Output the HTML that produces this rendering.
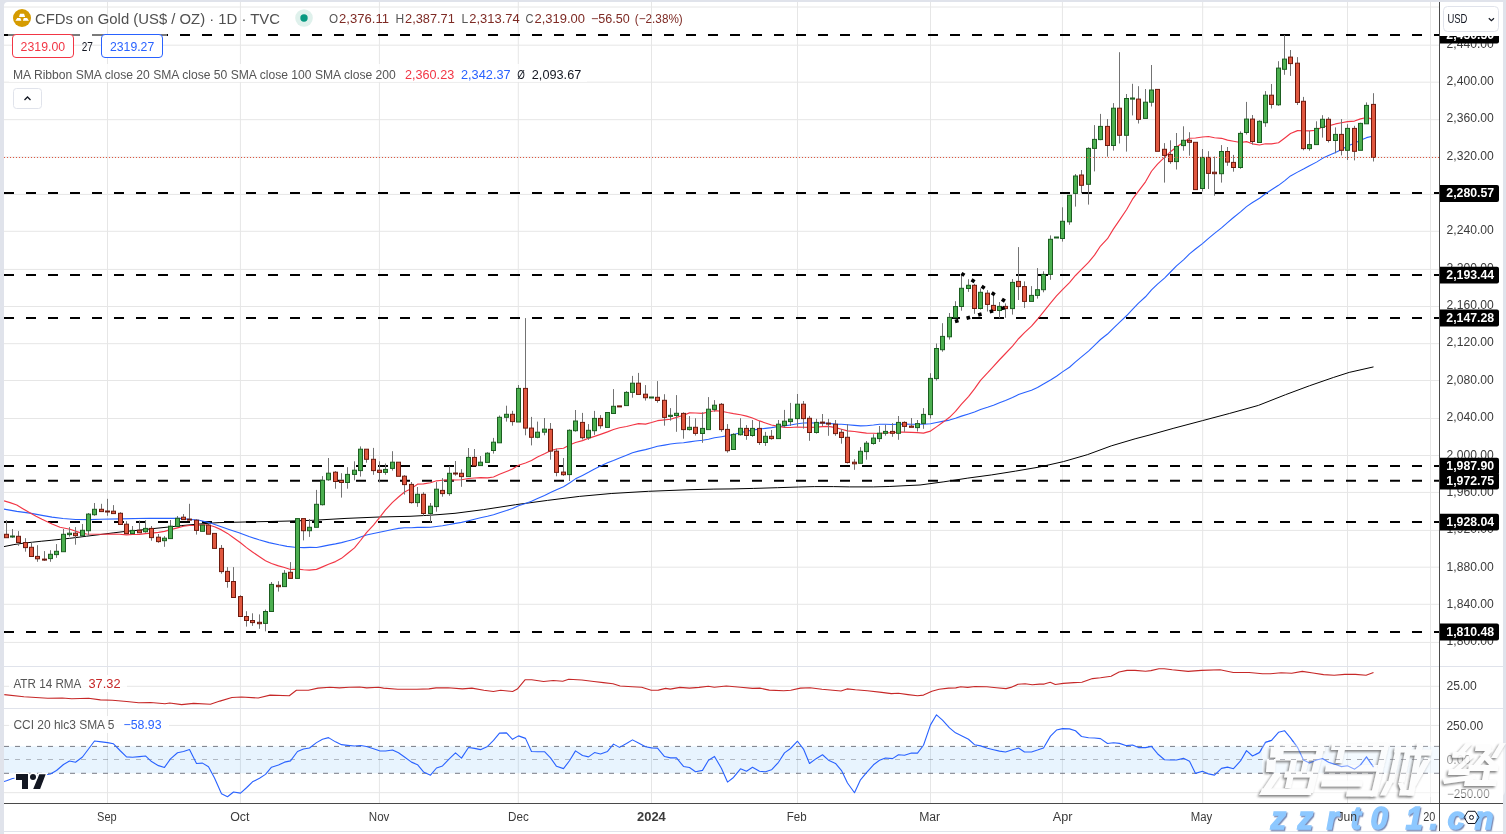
<!DOCTYPE html>
<html><head><meta charset="utf-8"><title>Gold chart</title>
<style>html,body{margin:0;padding:0;width:1506px;height:834px;overflow:hidden;background:#e0e3eb;font-family:"Liberation Sans",sans-serif}</style>
</head><body>
<svg width="1506" height="834" viewBox="0 0 1506 834" style="position:absolute;left:0;top:0;display:block;will-change:transform">
<defs><clipPath id="cp"><rect x="4" y="2" width="1435.5" height="664"/></clipPath><clipPath id="cpa"><rect x="4" y="667" width="1435.5" height="41"/></clipPath><clipPath id="cpc"><rect x="4" y="709" width="1435.5" height="94"/></clipPath></defs>
<rect width="1506" height="834" fill="#e0e3eb"/>
<rect x="4" y="2" width="1499" height="829" rx="4" fill="#fff"/>
<rect x="4" y="826" width="1499" height="5" fill="#fff"/>
<rect x="4" y="832" width="1499" height="2" fill="#fff"/>
<path d="M4 7 H1439 M4 45.2 H1439 M4 82.2 H1439 M4 119.7 H1439 M4 157.2 H1439 M4 194.4 H1439 M4 231.3 H1439 M4 269.4 H1439 M4 306.5 H1439 M4 343.7 H1439 M4 380.5 H1439 M4 418.5 H1439 M4 455.5 H1439 M4 492.4 H1439 M4 530.4 H1439 M4 567.2 H1439 M4 604.3 H1439 M4 642.4 H1439 M4 686.3 H1439 M4 725.4 H1439 M4 792.7 H1439 M107.5 2 V803 M240.4 2 V803 M379.4 2 V803 M518.3 2 V803 M651.5 2 V803 M797.5 2 V803 M930.5 2 V803 M1062.4 2 V803 M1202.7 2 V803 M1347.5 2 V803 M1430.5 2 V803 " stroke="#e6e6e6" stroke-width="1" fill="none"/>
<path d="M4 666.5 H1503 M4 708.5 H1503" stroke="#e0e3eb" stroke-width="1"/>
<rect x="4" y="746.4" width="1435.5" height="26.9" fill="#2196f3" fill-opacity="0.1"/>
<path d="M4 746.4 H1439 M4 773.3 H1439" stroke="#787b86" stroke-width="1" stroke-dasharray="5 6" fill="none"/>
<path d="M4 759.5 H1439" stroke="#787b86" stroke-opacity="0.5" stroke-width="1" stroke-dasharray="5 6" fill="none"/>
<path d="M4 35 H1439.5 M4 193.1 H1439.5 M4 275 H1439.5 M4 317.9 H1439.5 M4 466 H1439.5 M4 480.8 H1439.5 M4 522 H1439.5 M4 631.9 H1439.5 " stroke="#000" stroke-width="2" stroke-dasharray="10 12" fill="none"/>
<g clip-path="url(#cp)" fill="none" stroke-linejoin="round">
<polyline points="4,546.6 13.9,544.6 23.2,543.2 32.5,542.2 41.8,541.2 51.1,540.3 60.4,539.3 69.7,538.3 79,537.2 86.6,536.2 99.8,534.6 113.1,532.9 126.4,531.3 140,530.1 153.9,528.5 167.9,527.1 181.8,525.6 195.8,524.3 209.7,523.2 219.1,522.6 249,521.9 278.9,521.3 290,521 312.8,520.3 346,518.4 379.2,517 410,516.3 426.8,515.4 440,514.5 455,513.3 483.7,509.6 515.6,504.7 547.5,500.4 579.4,496.4 611.2,493.5 648.6,491.3 690,489.7 713.9,489.1 733,488.9 753.7,488.4 777.6,487.7 798.4,487 814.3,486.6 833.4,486.6 849.4,486.9 873.3,486.9 889.2,486.5 905,485.7 920,485 943.9,481.8 967.8,478.1 991.7,474.9 1015.6,471.1 1039.5,467 1063.4,461.6 1087.3,454.7 1111.2,445.9 1135.1,438.8 1150,434.9 1173.9,428.2 1202.6,420.6 1229.7,413.4 1258.4,405.4 1285.5,394.7 1309.4,385.8 1333.3,377.5 1349.2,372.4 1373.5,366.9" stroke="#000" stroke-width="1"/>
<polyline points="4,509.1 16.8,511.4 29.9,513.1 42,515.4 52,517.1 63,518.5 75.6,519.5 89.6,519.6 100,519.3 119.5,518.9 149.4,518.3 179.3,518.4 199.2,520.3 209,522.6 219.1,525.9 229,529.4 239,532.8 249,536.5 259,539.8 269,542.6 278.9,544.8 287,546.4 294.8,547.2 304,547.6 310,547.4 316.5,547.53 322.5,546.39 328.5,545.13 335.5,543.91 341.5,542.61 347.5,540.97 354.5,539.19 360.5,536.98 366.5,535.08 373.5,533.46 379.5,532.23 385.5,530.95 392.5,529.48 398.5,528.4 404.5,527.81 411.5,527.68 417.5,527.33 423.5,527.36 430.5,527.22 436.5,526.51 442.5,525.71 449.5,524.57 455.5,523.39 461.5,522.36 468.5,520.75 474.5,519.24 480.5,517.72 487.5,516.26 493.5,514.73 499.5,512.69 506.5,510.58 512.5,508.4 518.5,505.67 525.5,503.55 531.5,501.33 537.5,498.54 544.5,495.49 550.5,492.56 556.5,489.68 563.5,486.76 569.5,482.92 575.5,478.86 582.5,475.39 588.5,472.31 594.5,468.94 600.5,465.99 607.5,462.67 613.5,460.42 619.5,457.94 626.5,455.25 632.5,452.82 638.5,451.11 645.5,449.6 651.5,447.91 657.5,446.27 664.5,445.13 670.5,444.03 676.5,443.31 683.5,442.72 689.5,441.85 695.5,441.07 702.5,440.25 708.5,439.19 714.5,437.77 721.5,436.67 727.5,435.63 733.5,434.43 740.5,432.73 746.5,431.31 752.5,430.1 759.5,429.08 765.5,428.34 771.5,427.63 778.5,426.58 784.5,425.86 790.5,424.92 797.5,423.76 803.5,423.07 809.5,422.88 816.5,422.98 822.5,423.15 828.5,423.19 835.5,424.1 841.5,424.28 847.5,424.79 854.5,425.42 860.5,425.86 866.5,425.71 873.5,425.02 879.5,424.19 885.5,424.21 892.5,424.46 898.5,424.15 904.5,424.07 911.5,424.25 917.5,424.21 923.5,424.25 930.5,423.69 936.5,422.53 942.5,421.41 949.5,420.09 955.5,418.33 961.5,416.14 968.5,413.91 974.5,412.07 980.5,409.57 987.5,407.35 993.5,405.29 999.5,402.83 1005.5,400.46 1012.5,397.44 1018.5,394.6 1024.5,392.44 1031.5,390.25 1037.5,387.45 1043.5,383.92 1050.5,380.02 1056.5,376.2 1062.5,371.91 1069.5,367.25 1075.5,361.92 1081.5,356.9 1088.5,351.1 1094.5,345.4 1100.5,339.5 1107.5,334.03 1113.5,328.11 1119.5,322.45 1126.5,315.77 1132.5,309.28 1138.5,303.21 1145.5,296.78 1151.5,289.91 1157.5,284.18 1164.5,278.04 1170.5,272 1176.5,265.9 1183.5,259.84 1189.5,253.93 1195.5,249.05 1202.5,243.57 1208.5,238.38 1214.5,233.4 1221.5,227.9 1227.5,222.6 1233.5,217.48 1240.5,211.86 1246.5,206.67 1252.5,202.53 1259.5,198.23 1265.5,193.79 1271.5,189.74 1278.5,185.34 1284.5,180.82 1290.5,175.92 1297.5,172.12 1303.5,169 1309.5,165.69 1316.5,162.13 1322.5,158.34 1328.5,155.5 1335.5,152.46 1341.5,149.44 1347.5,146.1 1354.5,143.33 1360.5,140.31 1366.5,137.63 1373.5,136.04" stroke="#2962ff" stroke-width="1.1"/>
<polyline points="4,500.9 10,502.6 16.8,505 22,508.2 29.4,512.6 36,516.2 42,519.3 52,524 60,527.3 70,529.3 79.9,532.6 86.6,534 99.8,534.2 113.1,534 119.5,534.2 126.5,534.84 132.5,534.47 139.5,534.31 145.5,533.61 151.5,533.11 158.5,532.36 164.5,531.33 170.5,529.64 177.5,527.84 183.5,526.25 189.5,525.52 196.5,525.38 202.5,524.86 208.5,525.05 214.5,526.76 221.5,529.88 227.5,533.38 233.5,537.66 240.5,542.81 246.5,547.61 252.5,552.06 259.5,556.72 265.5,560.65 271.5,563.46 278.5,565.91 284.5,567.5 290.5,569.5 297.5,569.12 303.5,569.75 309.5,570.13 316.5,569.36 322.5,566.86 328.5,564.26 335.5,561.62 341.5,558.33 347.5,553.47 354.5,547.9 360.5,540.49 366.5,532.63 373.5,525.13 379.5,517.62 385.5,509.91 392.5,502.44 398.5,497.04 404.5,491.94 411.5,488.4 417.5,484.19 423.5,483.94 430.5,482.71 436.5,480.81 442.5,480.27 449.5,479.93 455.5,479.96 461.5,479.72 468.5,478.46 474.5,478.04 480.5,477.64 487.5,477.84 493.5,476.98 499.5,474.31 506.5,471.41 512.5,469.02 518.5,465.33 525.5,462.92 531.5,460.56 537.5,457.04 544.5,453.77 550.5,450.66 556.5,448.96 563.5,448.24 569.5,445.07 575.5,442.46 582.5,440.64 588.5,438.33 594.5,436.38 600.5,434.38 607.5,431.89 613.5,429.54 619.5,427.77 626.5,426.52 632.5,424.97 638.5,423.61 645.5,424.07 651.5,422.52 657.5,420.68 664.5,419.94 670.5,419.25 676.5,417.36 683.5,415.22 689.5,412.85 695.5,413 702.5,413.38 708.5,411.95 714.5,410.69 721.5,411.25 727.5,412.5 733.5,413.6 740.5,414.7 746.5,416.14 752.5,417.94 759.5,420.91 765.5,423 771.5,425.04 778.5,426.41 784.5,427.44 790.5,427.52 797.5,426.97 803.5,427.24 809.5,427.38 816.5,427.14 822.5,426.61 828.5,426.38 835.5,427.59 841.5,429.21 847.5,430.86 854.5,431.51 860.5,432.36 866.5,433.1 873.5,433.23 879.5,433.47 885.5,432.91 892.5,432.76 898.5,431.96 904.5,432.06 911.5,432.37 917.5,432.59 923.5,433.11 930.5,431.09 936.5,426.89 942.5,422.59 949.5,417.32 955.5,411.46 961.5,404.19 968.5,396.58 974.5,388.88 980.5,380.31 987.5,372.97 993.5,366.33 999.5,359.75 1005.5,353.51 1012.5,346.06 1018.5,338.73 1024.5,332.68 1031.5,326.13 1037.5,319.25 1043.5,311.79 1050.5,303.03 1056.5,295.97 1062.5,289.61 1069.5,282.55 1075.5,275.48 1081.5,269.42 1088.5,262.43 1094.5,255.13 1100.5,246.03 1107.5,238.69 1113.5,228.88 1119.5,220.12 1126.5,209.72 1132.5,199.19 1138.5,191.04 1145.5,181.82 1151.5,171.25 1157.5,164.05 1164.5,157.33 1170.5,151.69 1176.5,147.05 1183.5,142.22 1189.5,138.27 1195.5,137.98 1202.5,137.05 1208.5,136.45 1214.5,137.72 1221.5,138.32 1227.5,140.11 1233.5,141.21 1240.5,142.47 1246.5,141.66 1252.5,143.81 1259.5,144.97 1265.5,143.77 1271.5,143.88 1278.5,142.78 1284.5,138.17 1290.5,133.58 1297.5,130.62 1303.5,130.72 1309.5,130.94 1316.5,130.25 1322.5,126.73 1328.5,125.88 1335.5,123.93 1341.5,122.77 1347.5,121.61 1354.5,121.07 1360.5,118.87 1366.5,117.47 1373.5,119.38" stroke="#f23645" stroke-width="1.15"/>
</g>
<path d="M6.5 520.2 V534.3 M12.5 529 V536 M12.5 536.8 V537.8 M18.5 531.1 V536.3 M18.5 542.5 V545.8 M25.5 538.2 V542.5 M25.5 547.6 V551.7 M31.5 542.4 V547.3 M37.5 545.2 V556.4 M37.5 558.8 V561.8 M44.5 551.1 V559.1 M44.5 560 V560.9 M50.5 550.2 V554.3 M50.5 558.6 V561.8 M56.5 544.1 V551.3 M56.5 554.6 V557.8 M63.5 529 V534.3 M69.5 527.1 V533.2 M69.5 534.6 V536.7 M75.5 527.1 V533.2 M75.5 535.7 V544.7 M82.5 524 V530.3 M88.5 513 V514.1 M88.5 530.7 V535.3 M94.5 503 V509.3 M94.5 514.7 V515.8 M101.5 503.8 V509.3 M107.5 498.8 V511 M107.5 511.8 V515.8 M113.5 505.1 V511.2 M120.5 512.2 V513.3 M126.5 521.2 V524.2 M132.5 526 V530.4 M139.5 520.6 V530.2 M145.5 520.2 V528.4 M145.5 531.7 V532.8 M151.5 526 V528.4 M151.5 537.6 V540.7 M158.5 534 V537.2 M158.5 541.6 V542.8 M164.5 536.1 V538.2 M164.5 540.7 V546.8 M170.5 520 V526.2 M177.5 516 V518.3 M183.5 514.1 V517.2 M189.5 503.8 V519.1 M189.5 519.7 V520.2 M196.5 519.3 V520.2 M196.5 530.4 V534.6 M208.5 523.4 V525.1 M221.5 545 V548.4 M221.5 571.6 V573.7 M227.5 567.1 V571.4 M227.5 581.5 V587.7 M233.5 567.1 V581.5 M240.5 595.2 V596.6 M246.5 611.2 V616.5 M246.5 620.5 V626.6 M252.5 613.3 V620.5 M252.5 622.6 V625.9 M259.5 614.4 V622.3 M259.5 623.7 V628.8 M265.5 609.6 V611.5 M265.5 623.4 V631.3 M271.5 582 V584.4 M278.5 581.2 V585.3 M278.5 586.7 V591.6 M284.5 570.1 V573.3 M290.5 562.1 V572.3 M297.5 518.1 V518.6 M303.5 530.7 V540.4 M309.5 519 V527.3 M309.5 530.7 V536.9 M316.5 489.9 V504.3 M322.5 476.1 V480.3 M322.5 504.7 V505.5 M328.5 458 V473.2 M328.5 479.8 V480.8 M335.5 471.1 V472.2 M335.5 481.5 V488.7 M341.5 473.2 V480.5 M341.5 482.5 V497.6 M347.5 467.2 V474.4 M347.5 482.5 V488.7 M354.5 461.3 V470.2 M354.5 474.4 V480.3 M360.5 446.4 V449.2 M360.5 470.6 V476.6 M366.5 459.3 V462.7 M373.5 447.9 V459.3 M373.5 470.6 V474.8 M379.5 461.3 V470.2 M379.5 472.4 V482.5 M385.5 463.5 V469.4 M385.5 472.4 V474.8 M392.5 451.2 V462.2 M392.5 468.4 V470.6 M404.5 475.1 V476.2 M404.5 484.6 V494.6 M411.5 482 V484.4 M411.5 502.6 V503.6 M417.5 487 V494.3 M417.5 502.6 V506.8 M423.5 492.2 V494.3 M423.5 513.5 V515.9 M430.5 503 V506.2 M430.5 513.5 V522.5 M436.5 482 V489.2 M436.5 506.6 V511.7 M442.5 478.1 V490.4 M442.5 493.6 V496.7 M449.5 466.2 V473.3 M449.5 493.6 V495.8 M455.5 461 V473 M455.5 474 V475.7 M461.5 469.2 V473.3 M461.5 476.6 V486.8 M468.5 448 V457.4 M474.5 449 V457.4 M480.5 456 V462.2 M487.5 452.2 V453.2 M493.5 437.9 V442.2 M493.5 450.5 V453.6 M499.5 415.5 V417.3 M506.5 405.7 V414.3 M506.5 417.3 V421.6 M512.5 410.8 V414.3 M512.5 421.6 V425.7 M518.5 385 V388.4 M525.5 318.1 V388.4 M525.5 428.1 V435.3 M531.5 416.9 V428.1 M531.5 437.3 V445.4 M537.5 421.6 V432.2 M537.5 437.3 V438.3 M544.5 418 V429.1 M544.5 432.2 V435.3 M550.5 423 V429.3 M550.5 451.1 V459.7 M556.5 448.7 V451.2 M556.5 472.4 V476.3 M563.5 458 V472.1 M563.5 474.7 V475.9 M569.5 429.3 V430.3 M569.5 474.6 V481 M575.5 410 V421 M575.5 430.7 V431.7 M582.5 412.9 V422.4 M582.5 437.7 V439.5 M588.5 424.1 V430.3 M588.5 437.7 V439.9 M594.5 410.9 V418.4 M594.5 430.7 V434.9 M600.5 415.1 V418.4 M600.5 425.7 V428.7 M613.5 389.1 V406.3 M626.5 391.1 V392.4 M632.5 375.9 V383.2 M632.5 392.4 V397.7 M638.5 372.9 V383.2 M645.5 385.1 V394.2 M645.5 397.7 V400.6 M657.5 381.1 V397.3 M657.5 400.5 V402.7 M664.5 394.2 V400.3 M664.5 417.4 V425.7 M670.5 408.1 V415.3 M670.5 416.4 V420.7 M676.5 395.1 V413.3 M676.5 415.5 V431.8 M683.5 412.3 V413.4 M683.5 429.6 V438.7 M689.5 416.1 V427.3 M689.5 429.6 V430.5 M695.5 418.2 V427.3 M695.5 433.4 V435.6 M702.5 412.3 V428.4 M702.5 433.5 V442.8 M708.5 397.1 V409.2 M714.5 400.1 V405.2 M714.5 409.4 V411.6 M721.5 403 V404.3 M721.5 429.6 V431.8 M727.5 424.1 V429.4 M727.5 450.7 V452.7 M733.5 433.2 V434.4 M740.5 418.2 V428.3 M740.5 434.7 V435.6 M746.5 425.1 V428.4 M746.5 435.5 V439.8 M752.5 420 V428.4 M752.5 435.5 V436.8 M759.5 421 V428.4 M759.5 442.5 V444.9 M765.5 431.9 V436.3 M765.5 442.5 V445.9 M771.5 430 V436.3 M771.5 438.6 V439.7 M778.5 420 V424.2 M784.5 409.9 V421.2 M784.5 425.5 V427.7 M790.5 402.9 V419.1 M790.5 421.6 V426 M797.5 394 V404.2 M797.5 418.6 V426.6 M803.5 401 V404.2 M803.5 418.6 V428.6 M809.5 415.9 V418.3 M809.5 432.5 V440.8 M816.5 418.8 V422.4 M816.5 432.5 V433.6 M822.5 414 V422.1 M822.5 422.9 V426 M828.5 418.8 V423.1 M828.5 423.7 V435.8 M835.5 420 V424.2 M835.5 433.6 V435.8 M841.5 429.1 V432.3 M841.5 437.5 V443.7 M847.5 424.1 V437.3 M847.5 462.5 V463.5 M854.5 459.2 V462.2 M854.5 463.8 V469.8 M860.5 447.1 V451.3 M866.5 441 V443.2 M866.5 451.6 V459.7 M873.5 434.2 V438.1 M873.5 443.5 V444.7 M879.5 426 V433.2 M879.5 438.6 V442 M885.5 424.8 V431.4 M885.5 433.3 V435.7 M892.5 423.1 V431.4 M892.5 433.3 V436.8 M898.5 416 V422.4 M898.5 433.3 V439.8 M904.5 421.3 V422.4 M904.5 426.4 V431.8 M911.5 418 V426.1 M917.5 420 V423.6 M917.5 427.6 V431.5 M923.5 408.1 V414.4 M923.5 423.4 V428.8 M930.5 373.2 V378.4 M930.5 414.6 V418.6 M936.5 343.5 V348.5 M936.5 378.6 V380.6 M942.5 323.2 V336.4 M942.5 349.7 V351.7 M949.5 313 V317.4 M949.5 336.8 V339.6 M955.5 301.2 V306.5 M961.5 274.7 V288.3 M961.5 306.5 V310.7 M968.5 279.2 V285.3 M968.5 288.5 V291.9 M974.5 283.8 V285.3 M974.5 308.5 V313.8 M980.5 288.4 V292.3 M980.5 308.5 V309.6 M987.5 290.1 V293.2 M987.5 304.4 V311.5 M993.5 293.8 V305.4 M999.5 302 V306.4 M999.5 310.5 V318.2 M1005.5 303.4 V306.4 M1005.5 308.6 V317.8 M1012.5 279 V282.4 M1012.5 308.6 V314.6 M1018.5 247.1 V281.4 M1018.5 286.6 V300 M1024.5 281.4 V286.6 M1024.5 301.4 V307.9 M1031.5 286.1 V295.4 M1037.5 268.1 V289.7 M1037.5 295.4 V298.6 M1043.5 271.3 V274.4 M1043.5 289.7 V292.3 M1050.5 235.4 V239.3 M1050.5 274.4 V279.8 M1062.5 207.3 V221.3 M1062.5 238.5 V241.6 M1069.5 194.8 V195.3 M1069.5 221.8 V224.8 M1075.5 174 V176 M1075.5 193.4 V206.6 M1081.5 170 V175 M1081.5 185.3 V193.2 M1088.5 147.3 V148.4 M1088.5 184.3 V204.6 M1094.5 125.1 V139.4 M1094.5 148.4 V171.4 M1100.5 113.9 V126.4 M1100.5 139.6 V140.2 M1107.5 119 V126.4 M1107.5 145.5 V156.7 M1113.5 103.1 V108.2 M1113.5 145.5 V150.6 M1119.5 52.2 V108.2 M1119.5 135.3 V143.5 M1126.5 94 V98.5 M1126.5 135.3 V151.6 M1132.5 83.8 V98 M1132.5 99.1 V115.4 M1138.5 86.2 V99.1 M1138.5 119.4 V123.5 M1145.5 89 V102.2 M1151.5 65 V90 M1151.5 102.2 V106.5 M1164.5 143.1 V149.3 M1164.5 155.4 V182.6 M1170.5 140.3 V154.4 M1170.5 161.6 V163.8 M1176.5 133 V146.5 M1176.5 161.6 V169.5 M1183.5 126.3 V140.3 M1183.5 145.6 V150.7 M1189.5 132.2 V140.3 M1189.5 142.3 V155.7 M1202.5 149 V157.4 M1202.5 188.5 V191.5 M1208.5 151.2 V157.4 M1208.5 173.4 V189 M1214.5 156.6 V172.2 M1214.5 173.7 V195.7 M1221.5 145.1 V151.5 M1221.5 173.7 V182.6 M1227.5 147 V151.5 M1227.5 162.1 V165.8 M1233.5 154.9 V162.4 M1233.5 167.5 V171.7 M1240.5 131.4 V133.4 M1240.5 167.5 V168.8 M1246.5 101.9 V119.1 M1246.5 132.5 V134.5 M1252.5 115 V119.1 M1252.5 141.5 V144.6 M1259.5 120.3 V121.3 M1265.5 91.1 V95.2 M1265.5 122.7 V126.8 M1271.5 84 V95.2 M1271.5 104.4 V108.5 M1278.5 61.2 V68.1 M1278.5 104.8 V105.8 M1284.5 35.1 V59.1 M1284.5 69.3 V74.8 M1290.5 50 V57.1 M1290.5 63.6 V75.9 M1297.5 57.1 V63.2 M1297.5 102.4 V105 M1303.5 96.9 V101.3 M1303.5 148.6 V150.3 M1309.5 130.9 V144.6 M1309.5 148.6 V150.7 M1316.5 121.3 V128.4 M1322.5 115.2 V119.3 M1322.5 127.4 V137.6 M1328.5 117.2 V119.3 M1328.5 140.5 V142.5 M1335.5 127.4 V134.4 M1335.5 140.5 V153.3 M1341.5 119.1 V134.4 M1341.5 150.3 V155.4 M1347.5 124.2 V128.4 M1347.5 150.3 V160 M1354.5 125.8 V128.4 M1354.5 151.3 V160.4 M1360.5 122.7 V123.4 M1366.5 102.4 V105.4 M1373.5 93.2 V104.4 M1373.5 157.4 V161.5 " stroke="#737373" stroke-width="1" fill="none"/>
<g fill="#4caf50" stroke="#1b5e20" stroke-width="1"><rect x="10.5" y="536" width="4" height="1"/><rect x="48.5" y="554.3" width="4" height="4.3"/><rect x="54.5" y="551.3" width="4" height="3.3"/><rect x="61.5" y="534.3" width="4" height="17.4"/><rect x="67.5" y="533.2" width="4" height="1.4"/><rect x="80.5" y="530.3" width="4" height="5.4"/><rect x="86.5" y="514.1" width="4" height="16.6"/><rect x="92.5" y="509.3" width="4" height="5.4"/><rect x="130.5" y="530.4" width="4" height="3.2"/><rect x="143.5" y="528.4" width="4" height="3.3"/><rect x="162.5" y="538.2" width="4" height="2.5"/><rect x="168.5" y="526.2" width="4" height="12.4"/><rect x="175.5" y="518.3" width="4" height="8.2"/><rect x="200.5" y="525.1" width="4" height="6.2"/><rect x="263.5" y="611.5" width="4" height="11.9"/><rect x="269.5" y="584.4" width="4" height="27.1"/><rect x="282.5" y="573.3" width="4" height="13.3"/><rect x="295.5" y="518.6" width="4" height="59.8"/><rect x="307.5" y="527.3" width="4" height="3.4"/><rect x="314.5" y="504.3" width="4" height="23"/><rect x="320.5" y="480.3" width="4" height="24.4"/><rect x="326.5" y="473.2" width="4" height="6.6"/><rect x="345.5" y="474.4" width="4" height="8.1"/><rect x="352.5" y="470.2" width="4" height="4.2"/><rect x="358.5" y="449.2" width="4" height="21.4"/><rect x="383.5" y="469.4" width="4" height="3"/><rect x="390.5" y="462.2" width="4" height="6.2"/><rect x="415.5" y="494.3" width="4" height="8.3"/><rect x="428.5" y="506.2" width="4" height="7.3"/><rect x="434.5" y="489.2" width="4" height="17.4"/><rect x="447.5" y="473.3" width="4" height="20.3"/><rect x="466.5" y="457.4" width="4" height="19.2"/><rect x="478.5" y="462.2" width="4" height="3.4"/><rect x="485.5" y="453.2" width="4" height="9.2"/><rect x="491.5" y="442.2" width="4" height="8.3"/><rect x="497.5" y="417.3" width="4" height="25.5"/><rect x="504.5" y="414.3" width="4" height="3"/><rect x="516.5" y="388.4" width="4" height="33.6"/><rect x="535.5" y="432.2" width="4" height="5.1"/><rect x="542.5" y="429.1" width="4" height="3.1"/><rect x="567.5" y="430.3" width="4" height="44.3"/><rect x="573.5" y="421" width="4" height="9.7"/><rect x="586.5" y="430.3" width="4" height="7.4"/><rect x="592.5" y="418.4" width="4" height="12.3"/><rect x="605.5" y="412.5" width="4" height="14.9"/><rect x="611.5" y="406.3" width="4" height="7.2"/><rect x="624.5" y="392.4" width="4" height="13.2"/><rect x="630.5" y="383.2" width="4" height="9.2"/><rect x="649.5" y="397" width="4" height="1"/><rect x="668.5" y="415.3" width="4" height="1.1"/><rect x="674.5" y="413.3" width="4" height="2.2"/><rect x="687.5" y="427.3" width="4" height="2.3"/><rect x="700.5" y="428.4" width="4" height="5.1"/><rect x="706.5" y="409.2" width="4" height="20.4"/><rect x="712.5" y="405.2" width="4" height="4.2"/><rect x="731.5" y="434.4" width="4" height="15.1"/><rect x="738.5" y="428.3" width="4" height="6.4"/><rect x="750.5" y="428.4" width="4" height="7.1"/><rect x="763.5" y="436.3" width="4" height="6.2"/><rect x="776.5" y="424.2" width="4" height="14.4"/><rect x="782.5" y="421.2" width="4" height="4.3"/><rect x="788.5" y="419.1" width="4" height="2.5"/><rect x="795.5" y="404.2" width="4" height="14.4"/><rect x="814.5" y="422.4" width="4" height="10.1"/><rect x="858.5" y="451.3" width="4" height="12"/><rect x="864.5" y="443.2" width="4" height="8.4"/><rect x="871.5" y="438.1" width="4" height="5.4"/><rect x="877.5" y="433.2" width="4" height="5.4"/><rect x="883.5" y="431.4" width="4" height="1.9"/><rect x="896.5" y="422.4" width="4" height="10.9"/><rect x="915.5" y="423.6" width="4" height="4"/><rect x="921.5" y="414.4" width="4" height="9"/><rect x="928.5" y="378.4" width="4" height="36.2"/><rect x="934.5" y="348.5" width="4" height="30.1"/><rect x="940.5" y="336.4" width="4" height="13.3"/><rect x="947.5" y="317.4" width="4" height="19.4"/><rect x="953.5" y="306.5" width="4" height="11.2"/><rect x="959.5" y="288.3" width="4" height="18.2"/><rect x="966.5" y="285.3" width="4" height="3.2"/><rect x="978.5" y="292.3" width="4" height="16.2"/><rect x="997.5" y="306.4" width="4" height="4.1"/><rect x="1010.5" y="282.4" width="4" height="26.2"/><rect x="1029.5" y="295.4" width="4" height="6"/><rect x="1035.5" y="289.7" width="4" height="5.7"/><rect x="1041.5" y="274.4" width="4" height="15.3"/><rect x="1048.5" y="239.3" width="4" height="35.1"/><rect x="1054.5" y="237" width="4" height="1"/><rect x="1060.5" y="221.3" width="4" height="17.2"/><rect x="1067.5" y="195.3" width="4" height="26.5"/><rect x="1073.5" y="176" width="4" height="17.4"/><rect x="1086.5" y="148.4" width="4" height="35.9"/><rect x="1092.5" y="139.4" width="4" height="9"/><rect x="1098.5" y="126.4" width="4" height="13.2"/><rect x="1111.5" y="108.2" width="4" height="37.3"/><rect x="1124.5" y="98.5" width="4" height="36.8"/><rect x="1130.5" y="98" width="4" height="1.1"/><rect x="1143.5" y="102.2" width="4" height="16.2"/><rect x="1149.5" y="90" width="4" height="12.2"/><rect x="1174.5" y="146.5" width="4" height="15.1"/><rect x="1181.5" y="140.3" width="4" height="5.3"/><rect x="1200.5" y="157.4" width="4" height="31.1"/><rect x="1219.5" y="151.5" width="4" height="22.2"/><rect x="1238.5" y="133.4" width="4" height="34.1"/><rect x="1244.5" y="119.1" width="4" height="13.4"/><rect x="1257.5" y="121.3" width="4" height="21.2"/><rect x="1263.5" y="95.2" width="4" height="27.5"/><rect x="1276.5" y="68.1" width="4" height="36.7"/><rect x="1282.5" y="59.1" width="4" height="10.2"/><rect x="1307.5" y="144.6" width="4" height="4"/><rect x="1314.5" y="128.4" width="4" height="16.2"/><rect x="1320.5" y="119.3" width="4" height="8.1"/><rect x="1333.5" y="134.4" width="4" height="6.1"/><rect x="1345.5" y="128.4" width="4" height="21.9"/><rect x="1358.5" y="123.4" width="4" height="26.9"/><rect x="1364.5" y="105.4" width="4" height="18.4"/></g>
<g fill="#e0573f" stroke="#6d1a0e" stroke-width="1"><rect x="4.5" y="534.3" width="4" height="3.4"/><rect x="16.5" y="536.3" width="4" height="6.2"/><rect x="23.5" y="542.5" width="4" height="5.1"/><rect x="29.5" y="547.3" width="4" height="9.2"/><rect x="35.5" y="556.4" width="4" height="2.4"/><rect x="42.5" y="559.1" width="4" height="1"/><rect x="73.5" y="533.2" width="4" height="2.5"/><rect x="99.5" y="509.3" width="4" height="2.3"/><rect x="105.5" y="511" width="4" height="1"/><rect x="111.5" y="511.2" width="4" height="2.4"/><rect x="118.5" y="513.3" width="4" height="11.2"/><rect x="124.5" y="524.2" width="4" height="9.4"/><rect x="137.5" y="530.2" width="4" height="2.6"/><rect x="149.5" y="528.4" width="4" height="9.2"/><rect x="156.5" y="537.2" width="4" height="4.4"/><rect x="181.5" y="517.2" width="4" height="2.4"/><rect x="187.5" y="519.1" width="4" height="1"/><rect x="194.5" y="520.2" width="4" height="10.2"/><rect x="206.5" y="525.1" width="4" height="9.1"/><rect x="212.5" y="533.4" width="4" height="15"/><rect x="219.5" y="548.4" width="4" height="23.2"/><rect x="225.5" y="571.4" width="4" height="10.1"/><rect x="231.5" y="581.5" width="4" height="16"/><rect x="238.5" y="596.6" width="4" height="19.9"/><rect x="244.5" y="616.5" width="4" height="4"/><rect x="250.5" y="620.5" width="4" height="2.1"/><rect x="257.5" y="622.3" width="4" height="1.4"/><rect x="276.5" y="585.3" width="4" height="1.4"/><rect x="288.5" y="572.3" width="4" height="6.1"/><rect x="301.5" y="518.6" width="4" height="12.1"/><rect x="333.5" y="472.2" width="4" height="9.3"/><rect x="339.5" y="480.5" width="4" height="2"/><rect x="364.5" y="449.2" width="4" height="10.1"/><rect x="371.5" y="459.3" width="4" height="11.3"/><rect x="377.5" y="470.2" width="4" height="2.2"/><rect x="396.5" y="462.2" width="4" height="14.1"/><rect x="402.5" y="476.2" width="4" height="8.4"/><rect x="409.5" y="484.4" width="4" height="18.2"/><rect x="421.5" y="494.3" width="4" height="19.2"/><rect x="440.5" y="490.4" width="4" height="3.2"/><rect x="453.5" y="473" width="4" height="1"/><rect x="459.5" y="473.3" width="4" height="3.3"/><rect x="472.5" y="457.4" width="4" height="8.4"/><rect x="510.5" y="414.3" width="4" height="7.3"/><rect x="523.5" y="388.4" width="4" height="39.7"/><rect x="529.5" y="428.1" width="4" height="9.2"/><rect x="548.5" y="429.3" width="4" height="21.8"/><rect x="554.5" y="451.2" width="4" height="21.2"/><rect x="561.5" y="472.1" width="4" height="2.6"/><rect x="580.5" y="422.4" width="4" height="15.3"/><rect x="598.5" y="418.4" width="4" height="7.3"/><rect x="617.5" y="405.9" width="4" height="1"/><rect x="636.5" y="383.2" width="4" height="11.2"/><rect x="643.5" y="394.2" width="4" height="3.5"/><rect x="655.5" y="397.3" width="4" height="3.2"/><rect x="662.5" y="400.3" width="4" height="17.1"/><rect x="681.5" y="413.4" width="4" height="16.2"/><rect x="693.5" y="427.3" width="4" height="6.1"/><rect x="719.5" y="404.3" width="4" height="25.3"/><rect x="725.5" y="429.4" width="4" height="21.3"/><rect x="744.5" y="428.4" width="4" height="7.1"/><rect x="757.5" y="428.4" width="4" height="14.1"/><rect x="769.5" y="436.3" width="4" height="2.3"/><rect x="801.5" y="404.2" width="4" height="14.4"/><rect x="807.5" y="418.3" width="4" height="14.2"/><rect x="820.5" y="422.1" width="4" height="1"/><rect x="826.5" y="423.1" width="4" height="1"/><rect x="833.5" y="424.2" width="4" height="9.4"/><rect x="839.5" y="432.3" width="4" height="5.2"/><rect x="845.5" y="437.3" width="4" height="25.2"/><rect x="852.5" y="462.2" width="4" height="1.6"/><rect x="890.5" y="431.4" width="4" height="1.9"/><rect x="902.5" y="422.4" width="4" height="4"/><rect x="909.5" y="426.1" width="4" height="1.2"/><rect x="972.5" y="285.3" width="4" height="23.2"/><rect x="985.5" y="293.2" width="4" height="11.2"/><rect x="991.5" y="305.4" width="4" height="5.1"/><rect x="1003.5" y="306.4" width="4" height="2.2"/><rect x="1016.5" y="281.4" width="4" height="5.2"/><rect x="1022.5" y="286.6" width="4" height="14.8"/><rect x="1079.5" y="175" width="4" height="10.3"/><rect x="1105.5" y="126.4" width="4" height="19.1"/><rect x="1117.5" y="108.2" width="4" height="27.1"/><rect x="1136.5" y="99.1" width="4" height="20.3"/><rect x="1155.5" y="89.4" width="4" height="61.9"/><rect x="1162.5" y="149.3" width="4" height="6.1"/><rect x="1168.5" y="154.4" width="4" height="7.2"/><rect x="1187.5" y="140.3" width="4" height="2"/><rect x="1193.5" y="142.3" width="4" height="47.3"/><rect x="1206.5" y="157.4" width="4" height="16"/><rect x="1212.5" y="172.2" width="4" height="1.5"/><rect x="1225.5" y="151.5" width="4" height="10.6"/><rect x="1231.5" y="162.4" width="4" height="5.1"/><rect x="1250.5" y="119.1" width="4" height="22.4"/><rect x="1269.5" y="95.2" width="4" height="9.2"/><rect x="1288.5" y="57.1" width="4" height="6.5"/><rect x="1295.5" y="63.2" width="4" height="39.2"/><rect x="1301.5" y="101.3" width="4" height="47.3"/><rect x="1326.5" y="119.3" width="4" height="21.2"/><rect x="1339.5" y="134.4" width="4" height="15.9"/><rect x="1352.5" y="128.4" width="4" height="22.9"/><rect x="1371.5" y="104.4" width="4" height="53"/></g>
<path d="M961.4 273.4 L1005 301.2 M955 321.4 L1005 307.6" stroke="#000" stroke-width="3.6" stroke-dasharray="3.6 8.4" fill="none"/>
<path d="M4 157.5 H1439" stroke="#e0573f" stroke-width="1" stroke-dasharray="1 2"/>
<polyline clip-path="url(#cpa)" points="4.3,694.6 23.9,696.8 47.8,698.2 62.2,698 71.7,698.7 88.5,698.2 100.4,699.9 112.4,700.3 126.7,701.5 138.7,702.7 150.6,702.5 165,703.7 169.7,703 181.7,704.6 193.6,703.4 210.4,704.2 219.9,701.1 231.9,697.5 241.5,697 258.2,698 270.1,695.1 289.3,695.8 296.4,690.3 308.4,690.3 318,688.1 329.9,687.2 339.5,687.9 349,687.2 359.6,687 366.7,687.9 378.7,687.2 383.5,688.1 397.8,689.3 416.9,689.3 428.9,688.9 436.1,687.9 448,687.7 462.4,688.9 471.9,688.1 483.9,690.3 493.4,691.5 500.6,690.3 512.6,691.5 517.3,689.1 525,679.8 531.7,679.8 543.6,681.5 553.2,680.5 562.8,681.2 568.7,679.3 581.9,680 593.8,681.5 603.4,682.6 613,683.8 620.1,686 632.1,686.7 641.7,687.2 651.2,690.3 658.4,690.1 665.6,688.4 670.3,689.1 679.9,687.4 689.5,688.1 699,687.4 708.4,686.2 714.3,687.2 726.3,686 740.6,687.2 752.6,688.4 759.8,688.1 769.3,690.1 783.7,690.8 790.8,690.3 800.4,688.1 810,687.7 821.9,689.3 841,691 847,688.9 855.4,689.8 867.3,690.8 881.7,692.4 891.3,693.6 898.4,693.2 908,694.6 917.5,695.8 923.5,695.1 931.9,691.3 939.1,689.3 948.6,688.1 955.8,687.9 960.6,686.7 967.7,687.4 974.9,686.5 986.9,686.7 996.4,687.7 1006,688.6 1010.8,687.4 1018,684.3 1025.1,683.8 1032.3,684.8 1039.5,684.1 1044.2,684.1 1050.2,682.2 1055.3,684.5 1063.3,683.4 1073.9,682.6 1081.9,682.3 1092.5,678.6 1100.5,677.8 1111.1,676.2 1119.1,672 1127,670.4 1135,670.4 1145.6,671.2 1150.9,670.6 1158.9,668.8 1164.2,668.8 1172.2,669.8 1188.1,671.4 1201.4,670.4 1220,669.8 1233.3,672.5 1249.2,672.5 1262.5,673.8 1270.5,673.8 1281.1,672.8 1291.7,673.3 1302.3,671.4 1313,673 1323.6,674.6 1334.2,675.2 1344.8,674.4 1355.4,674.4 1366.1,675.2 1373.5,672.5" fill="none" stroke="#c62828" stroke-width="1.1" stroke-linejoin="round"/>
<polyline clip-path="url(#cpc)" points="4,781.6 6.5,780.8 12.5,778.5 18.5,777.8 25.5,777 31.5,776.2 37.5,775.5 44.5,775 50.5,774 56.5,770.5 63.5,764.5 69.5,761 75.5,762.2 82.5,757 88.5,749 94.5,741 101.5,741.9 107.5,742.6 113.5,743.8 120.5,751 126.5,756.85 132.5,757.29 139.5,756.65 145.5,755.97 151.5,761.57 158.5,765.65 164.5,767.43 170.5,758.82 177.5,752.73 183.5,751.58 189.5,749.58 196.5,763.53 202.5,763.15 208.5,766.83 214.5,778.03 221.5,793.73 227.5,796.72 233.5,792.04 240.5,793.16 246.5,787.76 252.5,781.85 259.5,778.24 265.5,774.41 271.5,767.2 278.5,765.02 284.5,762.15 290.5,760.84 297.5,751.48 303.5,748.92 309.5,748 316.5,742.64 322.5,739.18 328.5,737.61 335.5,741.86 341.5,744.65 347.5,745.36 354.5,746.04 360.5,745.43 366.5,746.58 373.5,748.7 379.5,750.85 385.5,751.01 392.5,749.97 398.5,752.82 404.5,757.01 411.5,762.13 417.5,764.67 423.5,771.94 430.5,775.22 436.5,768 442.5,765.91 449.5,758.65 455.5,752.93 461.5,758.14 468.5,747.53 474.5,748.35 480.5,749.64 487.5,746.4 493.5,740.45 499.5,733.16 506.5,732.88 512.5,739.34 518.5,735.86 525.5,738.37 531.5,751.52 537.5,751.73 544.5,751.73 550.5,757.85 556.5,766.31 563.5,768.61 569.5,760.76 575.5,750.85 582.5,755.46 588.5,756.9 594.5,752.58 600.5,754.07 607.5,751.44 613.5,744.11 619.5,747.36 626.5,743.56 632.5,739.88 638.5,743.1 645.5,746.78 651.5,747.91 657.5,748.16 664.5,756.58 670.5,757.89 676.5,757.9 683.5,766.45 689.5,767.57 695.5,771.74 702.5,770.4 708.5,760.22 714.5,756.42 721.5,768.48 727.5,782.07 733.5,777.45 740.5,768.81 746.5,771.31 752.5,767.33 759.5,771.21 765.5,771.79 771.5,769.76 778.5,762.25 784.5,752.84 790.5,748.5 797.5,741.21 803.5,749.07 809.5,763.5 816.5,758.41 822.5,754.72 828.5,760.16 835.5,763.4 841.5,770.58 847.5,782.97 854.5,792.7 860.5,779.79 866.5,772.58 873.5,764.76 879.5,760.3 885.5,757.98 892.5,758.6 898.5,754.77 904.5,755.21 911.5,752.96 917.5,753.09 923.5,745.22 930.5,724.9 936.5,714.8 942.5,720.1 949.5,727.94 955.5,732.86 961.5,735.7 968.5,739.27 974.5,744.68 980.5,745.87 987.5,748.16 993.5,749.7 999.5,751.15 1005.5,752.03 1012.5,749.84 1018.5,748.07 1024.5,752.06 1031.5,751.96 1037.5,750.08 1043.5,748 1050.5,736.14 1056.5,730.04 1062.5,728.64 1069.5,728.9 1075.5,730.76 1081.5,736.49 1088.5,737.78 1094.5,737.97 1100.5,738.58 1107.5,743.43 1113.5,742.78 1119.5,743.39 1126.5,745.65 1132.5,744.94 1138.5,747.58 1145.5,747.64 1151.5,746.4 1157.5,753.71 1164.5,759.76 1170.5,760.05 1176.5,760.02 1183.5,758.37 1189.5,761.15 1195.5,773.4 1202.5,771.26 1208.5,773.9 1214.5,775.13 1221.5,768.37 1227.5,767.12 1233.5,768.7 1240.5,760.92 1246.5,750.65 1252.5,756.03 1259.5,752.56 1265.5,742.39 1271.5,740.36 1278.5,732.32 1284.5,730.72 1290.5,737.92 1297.5,747.32 1303.5,760.1 1309.5,763.01 1316.5,760.09 1322.5,758.59 1328.5,762.15 1335.5,764.55 1341.5,766.57 1347.5,765.7 1354.5,769.2 1360.5,764.88 1366.5,756.91 1373.5,767.18" fill="none" stroke="#2962ff" stroke-width="1.1" stroke-linejoin="round"/>
<rect x="1440" y="2" width="63" height="664" fill="#fff"/>
<rect x="1440" y="667" width="63" height="41" fill="#fff"/>
<rect x="1440" y="709" width="63" height="94" fill="#fff"/>
<g font-family="Liberation Sans, sans-serif" font-size="12" fill="#3b3b3b"><text x="1446.6" y="47.65" textLength="47.2" lengthAdjust="spacingAndGlyphs">2,440.00</text><text x="1446.6" y="85" textLength="47.2" lengthAdjust="spacingAndGlyphs">2,400.00</text><text x="1446.6" y="122.35" textLength="47.2" lengthAdjust="spacingAndGlyphs">2,360.00</text><text x="1446.6" y="159.7" textLength="47.2" lengthAdjust="spacingAndGlyphs">2,320.00</text><text x="1446.6" y="234.4" textLength="47.2" lengthAdjust="spacingAndGlyphs">2,240.00</text><text x="1446.6" y="271.75" textLength="47.2" lengthAdjust="spacingAndGlyphs">2,200.00</text><text x="1446.6" y="309.1" textLength="47.2" lengthAdjust="spacingAndGlyphs">2,160.00</text><text x="1446.6" y="346.45" textLength="47.2" lengthAdjust="spacingAndGlyphs">2,120.00</text><text x="1446.6" y="383.8" textLength="47.2" lengthAdjust="spacingAndGlyphs">2,080.00</text><text x="1446.6" y="421.15" textLength="47.2" lengthAdjust="spacingAndGlyphs">2,040.00</text><text x="1446.6" y="458.5" textLength="47.2" lengthAdjust="spacingAndGlyphs">2,000.00</text><text x="1446.6" y="495.85" textLength="47.2" lengthAdjust="spacingAndGlyphs">1,960.00</text><text x="1446.6" y="533.2" textLength="47.2" lengthAdjust="spacingAndGlyphs">1,920.00</text><text x="1446.6" y="570.55" textLength="47.2" lengthAdjust="spacingAndGlyphs">1,880.00</text><text x="1446.6" y="607.9" textLength="47.2" lengthAdjust="spacingAndGlyphs">1,840.00</text><text x="1446.6" y="645.25" textLength="47.2" lengthAdjust="spacingAndGlyphs">1,800.00</text><text x="1446.4" y="690.3" textLength="30.4" lengthAdjust="spacingAndGlyphs">25.00</text><text x="1446.4" y="730" textLength="36.9" lengthAdjust="spacingAndGlyphs">250.00</text><text x="1446.4" y="764" textLength="24.2" lengthAdjust="spacingAndGlyphs">0.00</text><text x="1446.9" y="797.8" textLength="42.8" lengthAdjust="spacingAndGlyphs">−250.00</text></g>
<g font-family="Liberation Sans, sans-serif" font-size="12" font-weight="bold" fill="#fff"><path d="M1439.5 26.7 H1497 a2 2 0 0 1 2 2 V41.6 a2 2 0 0 1 -2 2 H1439.5 Z" fill="#000"/><path d="M1439.5 185 H1497 a2 2 0 0 1 2 2 V199.9 a2 2 0 0 1 -2 2 H1439.5 Z" fill="#000"/><path d="M1439.5 266.7 H1497 a2 2 0 0 1 2 2 V281.6 a2 2 0 0 1 -2 2 H1439.5 Z" fill="#000"/><path d="M1439.5 309.6 H1497 a2 2 0 0 1 2 2 V324.5 a2 2 0 0 1 -2 2 H1439.5 Z" fill="#000"/><path d="M1439.5 457.7 H1497 a2 2 0 0 1 2 2 V472.6 a2 2 0 0 1 -2 2 H1439.5 Z" fill="#000"/><path d="M1439.5 472.5 H1497 a2 2 0 0 1 2 2 V487.4 a2 2 0 0 1 -2 2 H1439.5 Z" fill="#000"/><path d="M1439.5 513.7 H1497 a2 2 0 0 1 2 2 V528.6 a2 2 0 0 1 -2 2 H1439.5 Z" fill="#000"/><path d="M1439.5 623.6 H1497 a2 2 0 0 1 2 2 V638.5 a2 2 0 0 1 -2 2 H1439.5 Z" fill="#000"/><text x="1446.3" y="38.7" textLength="47.9" lengthAdjust="spacingAndGlyphs">2,450.50</text><text x="1446.3" y="197" textLength="47.9" lengthAdjust="spacingAndGlyphs">2,280.57</text><text x="1446.3" y="278.7" textLength="47.9" lengthAdjust="spacingAndGlyphs">2,193.44</text><text x="1446.3" y="321.6" textLength="47.9" lengthAdjust="spacingAndGlyphs">2,147.28</text><text x="1446.3" y="469.7" textLength="47.9" lengthAdjust="spacingAndGlyphs">1,987.90</text><text x="1446.3" y="484.5" textLength="47.9" lengthAdjust="spacingAndGlyphs">1,972.75</text><text x="1446.3" y="525.7" textLength="47.9" lengthAdjust="spacingAndGlyphs">1,928.04</text><text x="1446.3" y="635.6" textLength="47.9" lengthAdjust="spacingAndGlyphs">1,810.48</text></g>
<defs><filter id="sh" x="-20%" y="-20%" width="140%" height="140%"><feDropShadow dx="-1.6" dy="1.8" stdDeviation="0.9" flood-color="#6a6a6a" flood-opacity="0.95"/></filter><filter id="sh2" x="-20%" y="-20%" width="140%" height="140%"><feDropShadow dx="1.2" dy="1.4" stdDeviation="0.5" flood-color="#7f8fb8" flood-opacity="1"/></filter></defs>
<rect x="1262" y="742" width="243" height="55" rx="6" fill="#fff" fill-opacity="0.5"/>
<g filter="url(#sh)" opacity="0.88" fill="#fdfdfd"><polygon points="1271,746.5 1284,746.5 1283,757.5 1270,757.5"/><polygon points="1283,744.8 1326,744.2 1325,751 1282,751"/><polygon points="1276,754.5 1321,754.5 1320,760.5 1275,760.5"/><polygon points="1318,745 1325,745 1313,793 1306,793"/><polygon points="1291,760 1297,760 1291,788 1285,788"/><polygon points="1303.5,760 1309,760 1305,777 1299.5,777"/><polygon points="1285,771.5 1312,771.5 1311,777.5 1284,777.5"/><polygon points="1262,788.5 1312,788.5 1311,795 1260,795"/><polygon points="1267,759 1276,759 1275,772 1266,772"/><polygon points="1259,795 1267,795 1281,774.5 1274,772.5"/><polygon points="1332,744 1384,743 1383,750 1331,750"/><polygon points="1338.5,749 1345,749 1342,763 1335.5,763"/><polygon points="1326,765 1378,765 1377,771.5 1325,771.5"/><polygon points="1383,743 1389.5,743 1377,796.5 1370.5,796.5"/><polygon points="1347,790.5 1374,790.5 1373,796.5 1346,796.5"/><polygon points="1322,780.5 1363,780.5 1362,786.5 1321,786.5"/><polygon points="1395,747 1412,747 1411,752.5 1394,752.5"/><polygon points="1395,751 1401,751 1394,782.5 1388,782.5"/><polygon points="1405,751 1411,751 1404.5,782.5 1398.5,782.5"/><polygon points="1387,781 1393,782 1386,795.5 1380,795.5"/><polygon points="1398,783 1403,782 1407,793.5 1402,794"/><polygon points="1410,749.5 1432,749.5 1431,755.5 1409,755.5"/><polygon points="1417,743.5 1423.5,743.5 1414,795.5 1407.5,795.5"/><polygon points="1400,790 1414,790 1413,795.5 1399,795.5"/><polygon points="1425,757 1431,759 1416,786 1410,784"/><polygon points="1466,743 1473,743 1460,757.5 1453,757.5"/><polygon points="1453,752 1466,752 1465,757.5 1452,757.5"/><polygon points="1468,756 1475,756 1455,774.5 1448,774.5"/><polygon points="1449,769 1470,769 1469,775 1448,775"/><polygon points="1443,779 1475,774.5 1476,779.5 1444,784"/><polygon points="1476,745 1492,745 1491,751 1475,751"/><polygon points="1486,750 1493,750 1478,768 1471,768"/><polygon points="1480,755 1486,753 1499,767 1493,769"/><polygon points="1469,765 1499,765 1498,771 1468,771"/><polygon points="1484,770 1490,770 1487,785 1481,785"/><polygon points="1465,780 1497,780 1496,786 1464,786"/><polygon points="1500,743 1506,743 1497,758 1491,758"/></g>
<defs><clipPath id="wmclip"><rect x="1255" y="740" width="184.5" height="60"/></clipPath></defs>
<g clip-path="url(#wmclip)" opacity="0.55"><path d="M4 746.4 H1439 M4 759.5 H1439 M4 773.3 H1439" stroke="#787b86" stroke-width="1" stroke-dasharray="5 6" fill="none"/><polyline points="4,781.6 6.5,780.8 12.5,778.5 18.5,777.8 25.5,777 31.5,776.2 37.5,775.5 44.5,775 50.5,774 56.5,770.5 63.5,764.5 69.5,761 75.5,762.2 82.5,757 88.5,749 94.5,741 101.5,741.9 107.5,742.6 113.5,743.8 120.5,751 126.5,756.85 132.5,757.29 139.5,756.65 145.5,755.97 151.5,761.57 158.5,765.65 164.5,767.43 170.5,758.82 177.5,752.73 183.5,751.58 189.5,749.58 196.5,763.53 202.5,763.15 208.5,766.83 214.5,778.03 221.5,793.73 227.5,796.72 233.5,792.04 240.5,793.16 246.5,787.76 252.5,781.85 259.5,778.24 265.5,774.41 271.5,767.2 278.5,765.02 284.5,762.15 290.5,760.84 297.5,751.48 303.5,748.92 309.5,748 316.5,742.64 322.5,739.18 328.5,737.61 335.5,741.86 341.5,744.65 347.5,745.36 354.5,746.04 360.5,745.43 366.5,746.58 373.5,748.7 379.5,750.85 385.5,751.01 392.5,749.97 398.5,752.82 404.5,757.01 411.5,762.13 417.5,764.67 423.5,771.94 430.5,775.22 436.5,768 442.5,765.91 449.5,758.65 455.5,752.93 461.5,758.14 468.5,747.53 474.5,748.35 480.5,749.64 487.5,746.4 493.5,740.45 499.5,733.16 506.5,732.88 512.5,739.34 518.5,735.86 525.5,738.37 531.5,751.52 537.5,751.73 544.5,751.73 550.5,757.85 556.5,766.31 563.5,768.61 569.5,760.76 575.5,750.85 582.5,755.46 588.5,756.9 594.5,752.58 600.5,754.07 607.5,751.44 613.5,744.11 619.5,747.36 626.5,743.56 632.5,739.88 638.5,743.1 645.5,746.78 651.5,747.91 657.5,748.16 664.5,756.58 670.5,757.89 676.5,757.9 683.5,766.45 689.5,767.57 695.5,771.74 702.5,770.4 708.5,760.22 714.5,756.42 721.5,768.48 727.5,782.07 733.5,777.45 740.5,768.81 746.5,771.31 752.5,767.33 759.5,771.21 765.5,771.79 771.5,769.76 778.5,762.25 784.5,752.84 790.5,748.5 797.5,741.21 803.5,749.07 809.5,763.5 816.5,758.41 822.5,754.72 828.5,760.16 835.5,763.4 841.5,770.58 847.5,782.97 854.5,792.7 860.5,779.79 866.5,772.58 873.5,764.76 879.5,760.3 885.5,757.98 892.5,758.6 898.5,754.77 904.5,755.21 911.5,752.96 917.5,753.09 923.5,745.22 930.5,724.9 936.5,714.8 942.5,720.1 949.5,727.94 955.5,732.86 961.5,735.7 968.5,739.27 974.5,744.68 980.5,745.87 987.5,748.16 993.5,749.7 999.5,751.15 1005.5,752.03 1012.5,749.84 1018.5,748.07 1024.5,752.06 1031.5,751.96 1037.5,750.08 1043.5,748 1050.5,736.14 1056.5,730.04 1062.5,728.64 1069.5,728.9 1075.5,730.76 1081.5,736.49 1088.5,737.78 1094.5,737.97 1100.5,738.58 1107.5,743.43 1113.5,742.78 1119.5,743.39 1126.5,745.65 1132.5,744.94 1138.5,747.58 1145.5,747.64 1151.5,746.4 1157.5,753.71 1164.5,759.76 1170.5,760.05 1176.5,760.02 1183.5,758.37 1189.5,761.15 1195.5,773.4 1202.5,771.26 1208.5,773.9 1214.5,775.13 1221.5,768.37 1227.5,767.12 1233.5,768.7 1240.5,760.92 1246.5,750.65 1252.5,756.03 1259.5,752.56 1265.5,742.39 1271.5,740.36 1278.5,732.32 1284.5,730.72 1290.5,737.92 1297.5,747.32 1303.5,760.1 1309.5,763.01 1316.5,760.09 1322.5,758.59 1328.5,762.15 1335.5,764.55 1341.5,766.57 1347.5,765.7 1354.5,769.2 1360.5,764.88 1366.5,756.91 1373.5,767.18" fill="none" stroke="#2962ff" stroke-width="1.1"/></g>
<text x="1270.5 1297.5 1326.5 1350.5 1370.5 1405.5 1429.5 1447.5 1474.5" y="828.6" font-family="Liberation Sans, sans-serif" font-size="31" font-weight="bold" font-style="italic" fill="#8dc8ff" stroke="#8dc8ff" stroke-width="1.3" filter="url(#sh2)">zzrt01.cn</text>
<rect x="1440" y="2" width="63" height="34" fill="#fff"/>
<rect x="1440" y="2" width="63" height="6" fill="#fff"/>
<rect x="1443.5" y="6.5" width="55" height="25" rx="4" fill="#fff" stroke="#e0e3eb"/>
<text x="1447.4" y="22.8" font-family="Liberation Sans, sans-serif" font-size="12" fill="#131722" textLength="20" lengthAdjust="spacingAndGlyphs">USD</text>
<path d="M1488.8 18.2 L1491.4 20.6 L1494 18.2" fill="none" stroke="#131722" stroke-width="1.2"/>
<path d="M1439.5 2 V831 M4 803.5 H1503" stroke="#4a4a4a" stroke-width="1" fill="none"/>
<g font-family="Liberation Sans, sans-serif" font-size="12" fill="#3b3b3b"><text x="97.1" y="820.8" textLength="19.6" lengthAdjust="spacingAndGlyphs">Sep</text><text x="230.2" y="820.8" textLength="19.3" lengthAdjust="spacingAndGlyphs">Oct</text><text x="368.8" y="820.8" textLength="20.6" lengthAdjust="spacingAndGlyphs">Nov</text><text x="508" y="820.8" textLength="20.7" lengthAdjust="spacingAndGlyphs">Dec</text><text x="637.1" y="820.8" textLength="28.7" lengthAdjust="spacingAndGlyphs" font-weight="bold">2024</text><text x="786.8" y="820.8" textLength="19.9" lengthAdjust="spacingAndGlyphs">Feb</text><text x="919.2" y="820.8" textLength="21" lengthAdjust="spacingAndGlyphs">Mar</text><text x="1052.8" y="820.8" textLength="19.7" lengthAdjust="spacingAndGlyphs">Apr</text><text x="1190.8" y="820.8" textLength="21.5" lengthAdjust="spacingAndGlyphs">May</text><text x="1337.4" y="820.8" textLength="19.6" lengthAdjust="spacingAndGlyphs">Jun</text><text x="1423.3" y="820.8" textLength="12.1" lengthAdjust="spacingAndGlyphs">20</text></g>
<path d="M1464.2 817.4 L1467.9 811.3 H1475.1 L1478.8 817.4 L1475.1 823.5 H1467.9 Z" fill="none" stroke="#131722" stroke-width="1"/>
<circle cx="1471.5" cy="817.4" r="2" fill="none" stroke="#131722" stroke-width="1"/>
<circle cx="22" cy="18" r="9" fill="#d59b00"/>
<path d="M20 13.75 H24.1 L25.1 16.9 H19 Z M17.2 18 H20.3 L21.4 20.7 H15.4 Z M23.8 18 H27.1 L28.9 20.7 H22.9 Z" fill="#fff"/>
<text x="35" y="23.5" font-family="Liberation Sans, sans-serif" font-size="15" fill="#505050" textLength="245" lengthAdjust="spacingAndGlyphs">CFDs on Gold (US$ / OZ) · 1D · TVC</text>
<circle cx="304" cy="18" r="8.8" fill="#dff1ec"/><circle cx="304" cy="18" r="3.7" fill="#089981"/>
<text x="329" y="22.9" font-family="Liberation Sans, sans-serif" font-size="12.3" fill="#555555" textLength="9.1" lengthAdjust="spacingAndGlyphs">O</text>
<text x="339.1" y="22.9" font-family="Liberation Sans, sans-serif" font-size="12.3" fill="#7e2a24" textLength="49.9" lengthAdjust="spacingAndGlyphs">2,376.11</text>
<text x="395.5" y="22.9" font-family="Liberation Sans, sans-serif" font-size="12.3" fill="#555555" textLength="8.7" lengthAdjust="spacingAndGlyphs">H</text>
<text x="405.1" y="22.9" font-family="Liberation Sans, sans-serif" font-size="12.3" fill="#7e2a24" textLength="49.7" lengthAdjust="spacingAndGlyphs">2,387.71</text>
<text x="461.4" y="22.9" font-family="Liberation Sans, sans-serif" font-size="12.3" fill="#555555" textLength="6.7" lengthAdjust="spacingAndGlyphs">L</text>
<text x="469.3" y="22.9" font-family="Liberation Sans, sans-serif" font-size="12.3" fill="#7e2a24" textLength="50.4" lengthAdjust="spacingAndGlyphs">2,313.74</text>
<text x="525.5" y="22.9" font-family="Liberation Sans, sans-serif" font-size="12.3" fill="#555555" textLength="8" lengthAdjust="spacingAndGlyphs">C</text>
<text x="534.5" y="22.9" font-family="Liberation Sans, sans-serif" font-size="12.3" fill="#7e2a24" textLength="50.5" lengthAdjust="spacingAndGlyphs">2,319.00</text>
<text x="591" y="22.9" font-family="Liberation Sans, sans-serif" font-size="12.3" fill="#7e2a24" textLength="38.8" lengthAdjust="spacingAndGlyphs">−56.50</text>
<text x="634.8" y="22.9" font-family="Liberation Sans, sans-serif" font-size="12.3" fill="#7e2a24" textLength="48" lengthAdjust="spacingAndGlyphs">(−2.38%)</text>
<path d="M4 35 H8" stroke="#000" stroke-width="2"/>
<path d="M8 35 H80 M92 35 H167" stroke="#7a7a7a" stroke-width="2"/>
<rect x="12.5" y="34.5" width="61" height="23" rx="3.5" fill="#fff" stroke="#f23645"/>
<text x="20.6" y="50.7" font-family="Liberation Sans, sans-serif" font-size="12.5" fill="#f23645" textLength="44.5" lengthAdjust="spacingAndGlyphs">2319.00</text>
<text x="81.7" y="50.7" font-family="Liberation Sans, sans-serif" font-size="12" fill="#131722" textLength="11.2" lengthAdjust="spacingAndGlyphs">27</text>
<rect x="101.5" y="34.5" width="61" height="23" rx="3.5" fill="#fff" stroke="#2962ff"/>
<text x="110" y="50.7" font-family="Liberation Sans, sans-serif" font-size="12.5" fill="#2962ff" textLength="44.2" lengthAdjust="spacingAndGlyphs">2319.27</text>
<rect x="9" y="64" width="578" height="18" fill="#fff" fill-opacity="0.85"/>
<text x="13" y="78.9" font-family="Liberation Sans, sans-serif" font-size="12.5" fill="#555555" textLength="382.8" lengthAdjust="spacingAndGlyphs">MA Ribbon SMA close 20 SMA close 50 SMA close 100 SMA close 200</text>
<text x="405" y="78.9" font-family="Liberation Sans, sans-serif" font-size="12.5" fill="#f23645" textLength="49.2" lengthAdjust="spacingAndGlyphs">2,360.23</text>
<text x="461" y="78.9" font-family="Liberation Sans, sans-serif" font-size="12.5" fill="#2962ff" textLength="49.6" lengthAdjust="spacingAndGlyphs">2,342.37</text>
<text x="517.2" y="78.9" font-family="Liberation Sans, sans-serif" font-size="12.5" fill="#131722" textLength="7.6" lengthAdjust="spacingAndGlyphs">Ø</text>
<text x="531.8" y="78.9" font-family="Liberation Sans, sans-serif" font-size="12.5" fill="#131722" textLength="49.5" lengthAdjust="spacingAndGlyphs">2,093.67</text>
<rect x="13.5" y="88.5" width="28" height="20" rx="3" fill="#fff" stroke="#e0e3eb"/>
<path d="M24.5 100 L27.5 97 L30.5 100" fill="none" stroke="#131722" stroke-width="1.3"/>
<rect x="9" y="675" width="118" height="17" fill="#fff" fill-opacity="0.85"/>
<text x="13.4" y="688" font-family="Liberation Sans, sans-serif" font-size="12.5" fill="#555555" textLength="68" lengthAdjust="spacingAndGlyphs">ATR 14 RMA</text>
<text x="88.5" y="688" font-family="Liberation Sans, sans-serif" font-size="12.5" fill="#c62828" textLength="32" lengthAdjust="spacingAndGlyphs">37.32</text>
<rect x="9" y="716" width="160" height="17" fill="#fff" fill-opacity="0.85"/>
<text x="13.4" y="729.3" font-family="Liberation Sans, sans-serif" font-size="12.5" fill="#555555" textLength="101" lengthAdjust="spacingAndGlyphs">CCI 20 hlc3 SMA 5</text>
<text x="123.5" y="729.3" font-family="Liberation Sans, sans-serif" font-size="12.5" fill="#2962ff" textLength="38" lengthAdjust="spacingAndGlyphs">−58.93</text>
<g stroke="#fff" stroke-width="3" stroke-linejoin="round" paint-order="stroke"><path d="M16 774 H28 V789.1 H22 V780 H16 Z M39.3 774.2 H45.7 L40.1 788.9 H33.2 Z" fill="#131722"/><circle cx="33" cy="777" r="3" fill="#131722"/></g>
</svg>
</body></html>
